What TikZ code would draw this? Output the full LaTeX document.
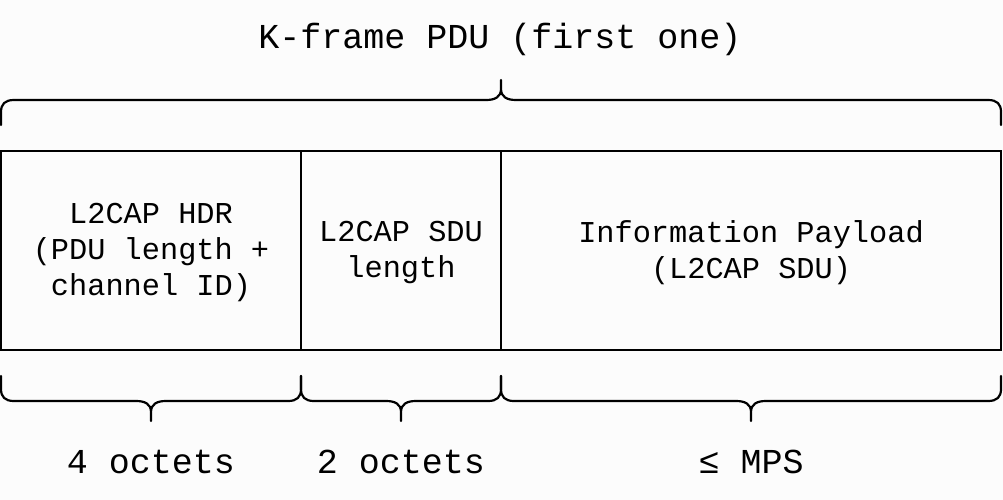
\documentclass[tikz,border=0pt]{standalone}
\usepackage{fontspec}
\setmainfont{Liberation Mono}
\begin{document}
\begin{tikzpicture}[x=1pt,y=-1pt,
  field/.style={draw=black, line width=2.6pt, inner sep=0pt, outer sep=0pt,
    minimum height=199pt, align=center},
  fieldtext/.style={inner sep=0pt, align=center, font=\fontsize{30.3}{36}\selectfont},
  biglabel/.style={inner sep=0pt, font=\fontsize{35}{42}\selectfont},
  brace/.style={draw=black, line width=2.2pt, line cap=round, line join=round}]
\useasboundingbox (0,0) rectangle (1003,500);
\fill[white!99!black] (0,0) rectangle (1003,500);
% title
\node[biglabel] (title) at (500,39) {K-frame PDU (first one)};
% top brace
\path[brace] (1,125) -- (1,112) .. controls (1,104) and (5,100) .. (14,100)
  -- (486,100) .. controls (495,100) and (501,97) .. (501,89) -- (501,80)
  (501,89) .. controls (501,97) and (507,100) .. (516,100)
  -- (988,100) .. controls (997,100) and (1001,104) .. (1001,112) -- (1001,125);
% fields
\node[field, minimum width=300pt] (hdr) at (151,250.5) {};
\node[field, minimum width=200pt] (sdu) at (401,250.5) {};
\node[field, minimum width=500pt] (pay) at (751,250.5) {};
\node[fieldtext] (hdrtext) at ([yshift=-2pt]hdr.center) {L2CAP HDR\\(PDU length +\\channel ID)};
\node[fieldtext] (sdutext) at ([yshift=-2pt]sdu.center) {L2CAP SDU\\length};
\node[fieldtext] (paytext) at ([yshift=-2pt]pay.center) {Information Payload\\(L2CAP SDU)};
% bottom braces
\path[brace] (1,376) -- (1,389) .. controls (1,397) and (5,401) .. (14,401)
  -- (136,401) .. controls (145,401) and (151,404) .. (151,412) -- (151,421)
  (151,412) .. controls (151,404) and (157,401) .. (166,401)
  -- (288,401) .. controls (297,401) and (301,397) .. (301,389) -- (301,376);
\path[brace] (301,376) -- (301,389) .. controls (301,397) and (305,401) .. (314,401)
  -- (386,401) .. controls (395,401) and (401,404) .. (401,412) -- (401,421)
  (401,412) .. controls (401,404) and (407,401) .. (416,401)
  -- (488,401) .. controls (497,401) and (501,397) .. (501,389) -- (501,376);
\path[brace] (501,376) -- (501,389) .. controls (501,397) and (505,401) .. (514,401)
  -- (736,401) .. controls (745,401) and (751,404) .. (751,412) -- (751,421)
  (751,412) .. controls (751,404) and (757,401) .. (766,401)
  -- (988,401) .. controls (997,401) and (1001,397) .. (1001,389) -- (1001,376);
% size labels
\node[biglabel] (l1) at (151,462) {4 octets};
\node[biglabel] (l2) at (401,462) {2 octets};
\node[biglabel] (l3) at (751,462) {≤ MPS};
\end{tikzpicture}
\end{document}
